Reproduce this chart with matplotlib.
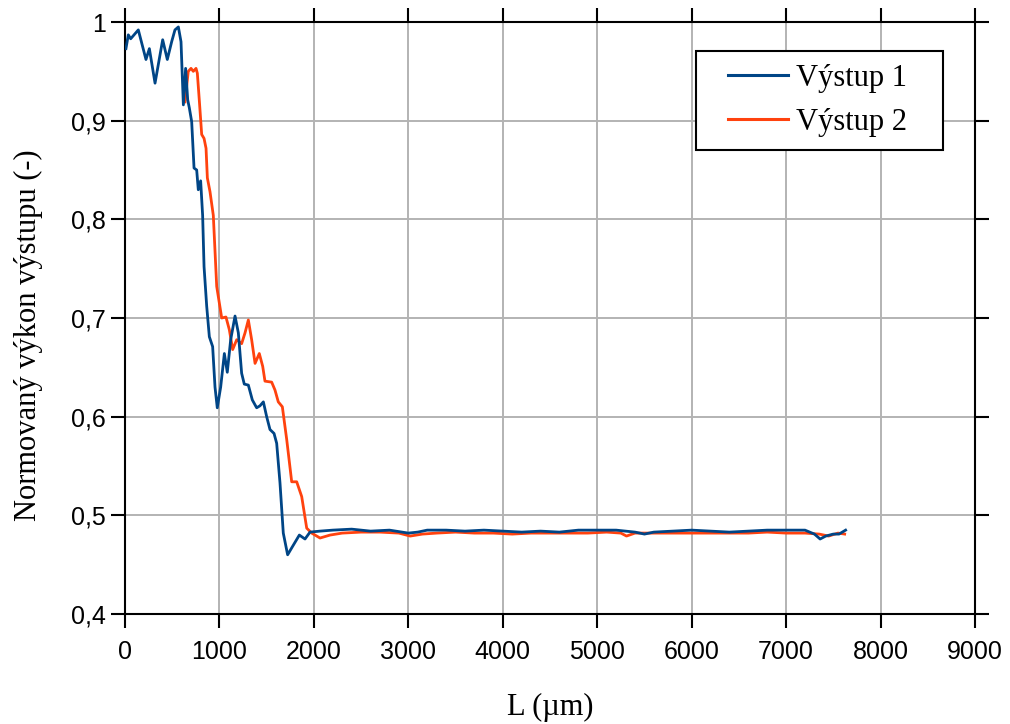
import matplotlib
matplotlib.use("Agg")
import matplotlib.pyplot as plt
from matplotlib.ticker import FixedLocator
from matplotlib.legend_handler import HandlerLine2D
from matplotlib.lines import Line2D

# Délka vlnovodu (µm) a normovaný výkon pro výstup 1
x1 = [10, 35, 60, 141, 222, 258, 318, 399, 448, 494, 529, 565, 593, 618, 642, 664,
      681, 706, 731, 759, 776, 801, 822, 837, 865, 893, 928, 953, 977, 1013, 1052,
      1083, 1119, 1165, 1200, 1235, 1263, 1306, 1348, 1394, 1429, 1465, 1500, 1535,
      1578, 1606, 1641, 1676, 1722, 1765, 1846, 1906, 1959, 2065, 2200, 2400, 2600,
      2800, 3000, 3100, 3200, 3400, 3600, 3800, 4000, 4200, 4400, 4600, 4800, 5000,
      5200, 5400, 5500, 5600, 5800, 6000, 6200, 6400, 6600, 6800, 7000, 7200, 7300,
      7360, 7420, 7500, 7560, 7630]
y1 = [0.973, 0.987, 0.983, 0.992, 0.962, 0.973, 0.938, 0.982, 0.962, 0.980, 0.992,
      0.995, 0.980, 0.916, 0.953, 0.921, 0.913, 0.899, 0.852, 0.850, 0.830, 0.839,
      0.804, 0.752, 0.712, 0.681, 0.671, 0.630, 0.609, 0.630, 0.664, 0.645, 0.678,
      0.702, 0.685, 0.644, 0.633, 0.632, 0.617, 0.609, 0.611, 0.615, 0.600, 0.587,
      0.583, 0.573, 0.533, 0.482, 0.460, 0.467, 0.480, 0.476, 0.483, 0.484, 0.485,
      0.486, 0.484, 0.485, 0.482, 0.483, 0.485, 0.485, 0.484, 0.485, 0.484, 0.483,
      0.484, 0.483, 0.485, 0.485, 0.485, 0.483, 0.481, 0.483, 0.484, 0.485, 0.484,
      0.483, 0.484, 0.485, 0.485, 0.485, 0.481, 0.476, 0.479, 0.481, 0.481, 0.485]

# Výstup 2
x2 = [635, 670, 699, 723, 752, 766, 788, 812, 837, 858, 872, 900, 935, 971, 1024,
      1069, 1105, 1140, 1183, 1235, 1271, 1306, 1341, 1377, 1422, 1458, 1482, 1553,
      1588, 1623, 1666, 1712, 1765, 1818, 1871, 1924, 1977, 2065, 2171, 2300, 2500,
      2700, 2900, 3020, 3150, 3300, 3500, 3700, 3900, 4100, 4300, 4500, 4700, 4900,
      5100, 5250, 5310, 5400, 5600, 5800, 6000, 6200, 6400, 6600, 6800, 7000, 7200,
      7350, 7450, 7550, 7620]
y2 = [0.919, 0.950, 0.953, 0.950, 0.953, 0.948, 0.919, 0.886, 0.882, 0.872, 0.842,
      0.828, 0.804, 0.732, 0.700, 0.701, 0.688, 0.668, 0.678, 0.674, 0.685, 0.698,
      0.678, 0.654, 0.664, 0.651, 0.636, 0.635, 0.627, 0.615, 0.610, 0.577, 0.534,
      0.534, 0.519, 0.487, 0.482, 0.477, 0.480, 0.482, 0.483, 0.483, 0.482, 0.479,
      0.481, 0.482, 0.483, 0.482, 0.482, 0.481, 0.482, 0.482, 0.482, 0.482, 0.483,
      0.482, 0.479, 0.482, 0.482, 0.482, 0.482, 0.482, 0.482, 0.482, 0.483, 0.482,
      0.482, 0.481, 0.479, 0.482, 0.481]

series_names = ["Výstup 1", "Výstup 2"]
x_ticks = [0, 1000, 2000, 3000, 4000, 5000, 6000, 7000, 8000, 9000]
y_ticks = [0.4, 0.5, 0.6, 0.7, 0.8, 0.9, 1.0]
y_tick_labels = ["0,4", "0,5", "0,6", "0,7", "0,8", "0,9", "1"]

fig = plt.figure(figsize=(10.1, 7.24), dpi=100)
ax = fig.add_axes([125 / 1010, 1 - 614 / 724, 850 / 1010, 592 / 724])

ax.plot(x2, y2, color="#ff420e", lw=2.0, label=series_names[1], zorder=2,
        solid_joinstyle="round")
ax.plot(x1, y1, color="#004586", lw=2.0, label=series_names[0], zorder=3,
        solid_joinstyle="round")

ax.set_xlim(0, 9000)
ax.set_ylim(0.4, 1.0)
ax.xaxis.set_major_locator(FixedLocator(x_ticks))
ax.set_xticklabels([str(v) for v in x_ticks], fontfamily="Liberation Sans", fontsize=18)
ax.yaxis.set_major_locator(FixedLocator(y_ticks))
ax.set_yticklabels(y_tick_labels, fontfamily="Liberation Sans", fontsize=18)

ax.grid(True, color="#b3b3b3", lw=1.4, zorder=0)
ax.set_axisbelow(True)
for s in ax.spines.values():
    s.set_linewidth(1.5)
    s.set_color("black")
ax.tick_params(which="major", direction="out", length=10, width=1.5,
               top=True, right=True, labeltop=False, labelright=False)
ax.tick_params(axis="x", pad=9)
ax.tick_params(axis="y", pad=4)

ax.set_xlabel("L (µm)", fontfamily="Liberation Serif", fontsize=22)
ax.set_ylabel("Normovaný výkon výstupu (-)", fontfamily="Liberation Serif", fontsize=22)
ax.xaxis.set_label_coords(0.5, -0.133)
ax.yaxis.set_label_coords(-0.097, 0.471)

# legenda: krátká čára odsazená od levého okraje rámečku
handles = [Line2D([], [], color="#004586", lw=2.2),
           Line2D([], [], color="#ff420e", lw=2.2)]
leg = ax.legend(handles, series_names, loc="upper left",
                bbox_to_anchor=(571 / 850, 1 - 29 / 592, 247 / 850, 0.0),
                mode="expand", borderaxespad=0,
                prop={"family": "Liberation Serif", "size": 22},
                handlelength=2.6, handletextpad=0.26, borderpad=0.42,
                labelspacing=0.5, fancybox=False, framealpha=1,
                handler_map={Line2D: HandlerLine2D(xpad=0.62)})
leg.get_frame().set_edgecolor("black")
leg.get_frame().set_linewidth(1.5)

fig.savefig("out.png", dpi=100)
